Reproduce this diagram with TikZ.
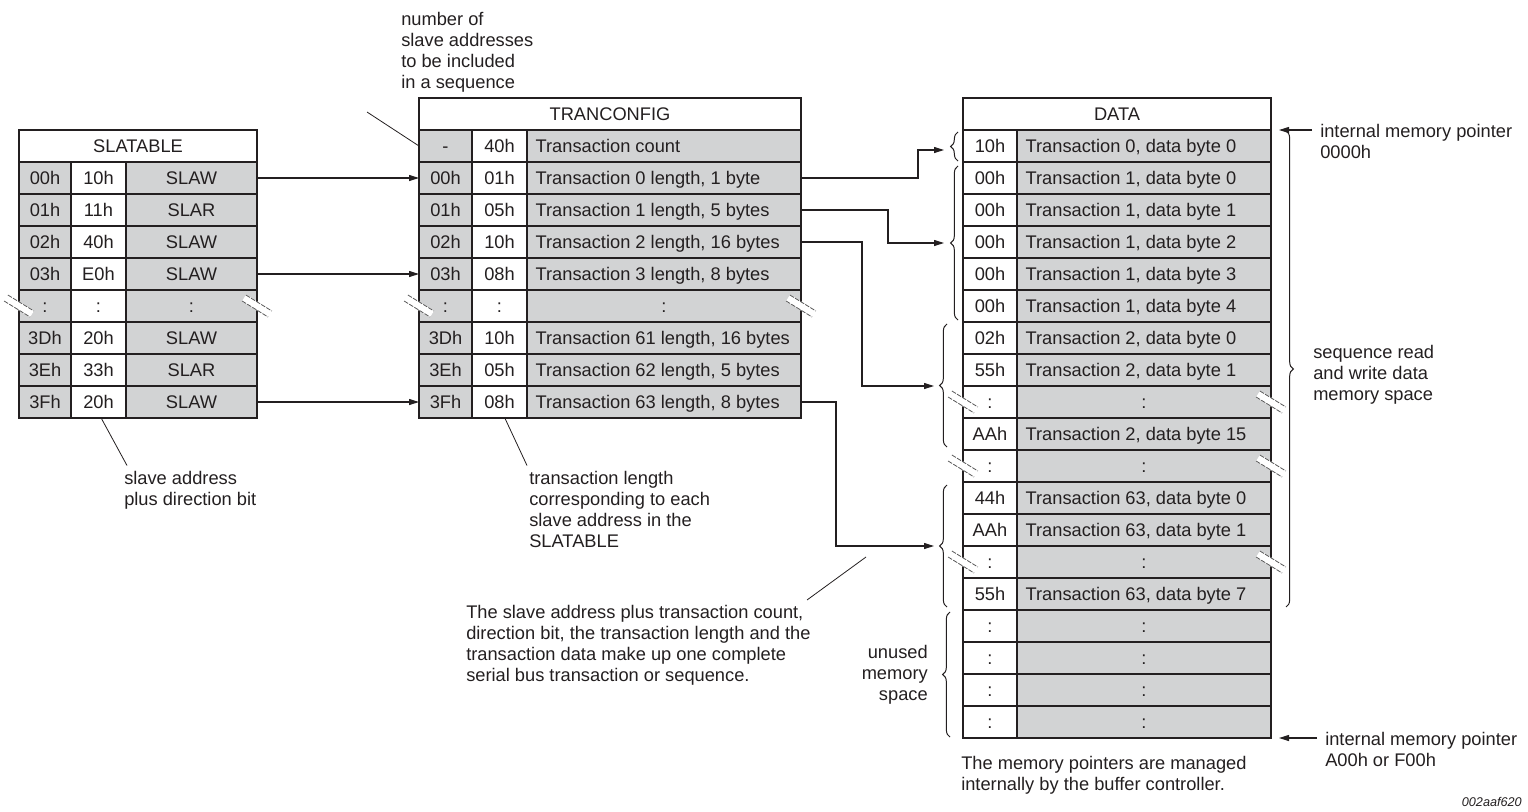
\documentclass[tikz,border=0pt]{standalone}
\usepackage{fontspec}
\setmainfont{Liberation Sans}
\usetikzlibrary{arrows.meta,decorations.pathreplacing}
\definecolor{cellgray}{RGB}{210,211,212}
\definecolor{inkc}{RGB}{35,31,32}
\newcommand\mkcell[6]{\node[#5, minimum width={(#3-#2)*0.75pt}] (#1) at ({(#2+#3)/2},#4) {#6};}
\newcommand\mktxt[2]{\node[celltext] (#1-t) at ([xshift=6.3pt]#1.west) {#2};}
\newcommand\brk[2]{%
  \fill[white] ({#1-13-2.1},{#2-8+3.3}) -- ({#1+13-2.1},{#2+8+3.3}) -- ({#1+13+2.1},{#2+8-3.3}) -- ({#1-13+2.1},{#2-8-3.3}) -- cycle;
  \draw[brkline] ({#1-13-1.9},{#2-8+3.0}) -- ({#1+13-1.9},{#2+8+3.0});
  \draw[brkline] ({#1-13+1.9},{#2-8-3.0}) -- ({#1+13+1.9},{#2+8-3.0});
}
\begin{document}
\begin{tikzpicture}[x=0.75pt,y=-0.75pt,
  font=\fontsize{13.7}{15.9}\selectfont, color=inkc,
  cellbox/.style={draw=inkc, line width=2.2pt, inner sep=0pt, outer sep=0pt, minimum height=24pt, text height=11pt, text depth=1.3pt},
  gcell/.style={cellbox, fill=cellgray},
  wcell/.style={cellbox, fill=white},
  celltext/.style={inner sep=0pt, anchor=west, text height=11pt, text depth=1.3pt},
  conn/.style={line width=0.8pt, -{Triangle[length=7.5pt,width=4.5pt]}},
  lead/.style={line width=0.6pt},
  note/.style={align=left, inner sep=0pt, anchor=north west},
  brc/.style={decorate, decoration={brace, amplitude=5.5pt}, line width=0.75pt},
  brkline/.style={line width=0.6pt, black!65, dash pattern=on 3.5pt off 1pt},
]
\useasboundingbox (0,0) rectangle (1528,811);

% ---------------- SLATABLE ----------------
\mkcell{stitle}{19}{257}{146}{wcell}{SLATABLE}
\foreach \n/\y/\a/\b/\c in {s0/178/00h/10h/SLAW, s1/210/01h/11h/SLAR, s2/242/02h/40h/SLAW, s3/274/03h/E0h/SLAW, sd/306/:/:/:, s3D/338/3Dh/20h/SLAW, s3E/370/3Eh/33h/SLAR, s3F/402/3Fh/20h/SLAW}{
  \mkcell{\n-a}{19}{71}{\y}{gcell}{\a}
  \mkcell{\n-b}{71}{126}{\y}{wcell}{\b}
  \mkcell{\n-c}{126}{257}{\y}{gcell}{\c}
}

% ---------------- TRANCONFIG ----------------
\mkcell{ttitle}{419}{801}{114}{wcell}{TRANCONFIG}
\foreach \n/\y/\a/\b/\c in {tc/146/-/40h/{Transaction count}, t0/178/00h/01h/{Transaction 0 length, 1 byte}, t1/210/01h/05h/{Transaction 1 length, 5 bytes}, t2/242/02h/10h/{Transaction 2 length, 16 bytes}, t3/274/03h/08h/{Transaction 3 length, 8 bytes}, t3D/338/3Dh/10h/{Transaction 61 length, 16 bytes}, t3E/370/3Eh/05h/{Transaction 62 length, 5 bytes}, t3F/402/3Fh/08h/{Transaction 63 length, 8 bytes}}{
  \mkcell{\n-a}{419}{472}{\y}{gcell}{\a}
  \mkcell{\n-b}{472}{527}{\y}{wcell}{\b}
  \mkcell{\n-c}{527}{801}{\y}{gcell}{}
  \mktxt{\n-c}{\c}
}
\mkcell{td-a}{419}{472}{306}{gcell}{:}
\mkcell{td-b}{472}{527}{306}{wcell}{:}
\mkcell{td-c}{527}{801}{306}{gcell}{:}

% ---------------- DATA ----------------
\mkcell{dtitle}{963}{1271}{114}{wcell}{DATA}
\foreach \n/\y/\a/\c in {d0/146/10h/{Transaction 0, data byte 0}, d1/178/00h/{Transaction 1, data byte 0}, d2/210/00h/{Transaction 1, data byte 1}, d3/242/00h/{Transaction 1, data byte 2}, d4/274/00h/{Transaction 1, data byte 3}, d5/306/00h/{Transaction 1, data byte 4}, d6/338/02h/{Transaction 2, data byte 0}, d7/370/55h/{Transaction 2, data byte 1}, d9/434/AAh/{Transaction 2, data byte 15}, d11/498/44h/{Transaction 63, data byte 0}, d12/530/AAh/{Transaction 63, data byte 1}, d14/594/55h/{Transaction 63, data byte 7}}{
  \mkcell{\n-a}{963}{1017}{\y}{wcell}{\a}
  \mkcell{\n-b}{1017}{1271}{\y}{gcell}{}
  \mktxt{\n-b}{\c}
}
\foreach \n/\y in {d8/402, d10/466, d13/562, d15/626, d16/658, d17/690, d18/722}{
  \mkcell{\n-a}{963}{1017}{\y}{wcell}{:}
  \mkcell{\n-b}{1017}{1271}{\y}{gcell}{:}
}

% ---------------- break marks ----------------
\brk{19}{306}\brk{257}{306}
\brk{419}{306}\brk{801}{306}
\brk{963}{402}\brk{1271}{402}
\brk{963}{466}\brk{1271}{466}
\brk{963}{562}\brk{1271}{562}

% ---------------- braces ----------------
\draw[brc] (958,161) -- (958,132);
\draw[brc] (958,320) -- (958,166);
\draw[brc] (947,447) -- (947,324);
\draw[brc] (947,607) -- (947,485);
\draw[brc] (950,737) -- (950,612);
\draw[brc] (1286,131) -- (1286,607);

\coordinate (b0) at (944,150);
\coordinate (b1) at (944,243);
\coordinate (b2) at (934,386);
\coordinate (b3) at (934,546);

% ---------------- connectors ----------------
\draw[conn] (s0-c.east) -- (t0-a.west);
\draw[conn] (s3-c.east) -- (t3-a.west);
\draw[conn] (s3F-c.east) -- (t3F-a.west);

\draw[conn] (t0-c.east) -- ++(117,0) |- (b0);
\draw[conn] (t1-c.east) -- ++(87,0) |- (b1);
\draw[conn] (t2-c.east) -- ++(61,0) |- (b2);
\draw[conn] (t3F-c.east) -- ++(35,0) |- (b3);

% ---------------- pointers ----------------
\coordinate (p0s) at (1312,130);
\coordinate (p0e) at (1279,130);
\coordinate (p1s) at (1317,738);
\coordinate (p1e) at (1279,738);
\draw[conn] (p0s) -- (p0e);
\draw[conn] (p1s) -- (p1e);

% ---------------- notes ----------------
\node[note] (nn) at (401,11.5) {number of\\slave addresses\\to be included\\in a sequence};
\node[note] (sn) at (124,470.5) {slave address\\plus direction bit};
\node[note] (tn) at (529,470.5) {transaction length\\corresponding to each\\slave address in the\\SLATABLE};
\node[note] (qn) at (466,604.5) {The slave address plus transaction count,\\direction bit, the transaction length and the\\transaction data make up one complete\\serial bus transaction or sequence.};
\node[align=right, inner sep=0pt, anchor=north east] (un) at (928,644.5) {unused\\memory\\space};
\node[note] (rn) at (1313,344.5) {sequence read\\and write data\\memory space};
\node[note] (p0t) at (1320,123.5) {internal memory pointer\\0000h};
\node[note] (p1t) at (1325,731.5) {internal memory pointer\\A00h or F00h};
\node[note] (mn) at (961,755.5) {The memory pointers are managed\\internally by the buffer controller.};
\node[inner sep=0pt, anchor=east, font=\fontsize{9.5}{11}\selectfont\itshape] (id) at (1522,802) {002aaf620};

% ---------------- leaders ----------------
\coordinate (nl) at (367,112);
\draw[lead] (nl) -- (tc-a.west);
\draw[lead] ([shift={(3,-5)}]sn.north west) -- ([xshift=2pt]s3F-b.south);
\draw[lead] ([shift={(-2,-5)}]tn.north west) -- ([xshift=4pt]t3F-b.south);
\coordinate (ql1) at (807,600);
\coordinate (ql2) at (866,557);
\draw[lead] (ql1) -- (ql2);
\end{tikzpicture}
\end{document}
